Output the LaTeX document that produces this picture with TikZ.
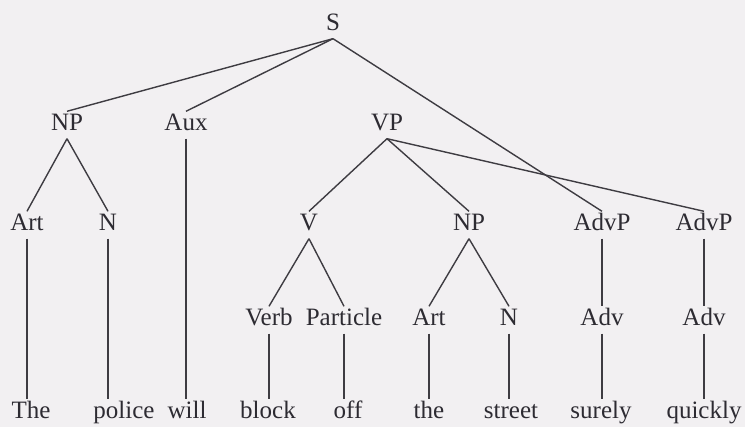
\documentclass[tikz,border=0pt]{standalone}
\usepackage{fontspec}
\setmainfont{Liberation Serif}
\definecolor{bg}{RGB}{242,240,242}
\definecolor{ink}{RGB}{45,43,50}
\definecolor{linec}{RGB}{62,60,66}
\begin{document}
\begin{tikzpicture}[x=1pt,y=-1pt,
  lab/.style={font=\fontsize{25}{28}\selectfont, text=ink, inner sep=2pt,
              text height=17pt, text depth=6pt},
  edge/.style={draw=linec, line width=1.4pt}]
\fill[bg] (0,0) rectangle (745,427);
\useasboundingbox (0,0) rectangle (745,427);
% nodes
\node[lab] (S) at (333,25) {S};
\node[lab] (NP1) at (67,125) {NP};
\node[lab] (Aux) at (186,125) {Aux};
\node[lab] (VP) at (387,125) {VP};
\node[lab] (Art1) at (27,225) {Art};
\node[lab] (N1) at (108,225) {N};
\node[lab] (V) at (309,225) {V};
\node[lab] (NP2) at (469,225) {NP};
\node[lab] (AdvP1) at (602,225) {AdvP};
\node[lab] (AdvP2) at (704,225) {AdvP};
\node[lab] (Verb) at (269,320) {Verb};
\node[lab] (Part) at (344,320) {Particle};
\node[lab] (Art2) at (429,320) {Art};
\node[lab] (N2) at (509,320) {N};
\node[lab] (Adv1) at (602,320) {Adv};
\node[lab] (Adv2) at (704,320) {Adv};
\node[lab] (w1) at (31,413) {The};
\node[lab] (w2) at (124,413) {police};
\node[lab] (w3) at (187,413) {will};
\node[lab] (w4) at (268,413) {block};
\node[lab] (w5) at (348,413) {off};
\node[lab] (w6) at (429,413) {the};
\node[lab] (w7) at (511,413) {street};
\node[lab] (w8) at (601,413) {surely};
\node[lab] (w9) at (704,413) {quickly};
% edges
\draw[edge] (S.south) -- (NP1.north);
\draw[edge] (S.south) -- (Aux.north);
\draw[edge] (S.south) -- (AdvP1.north);
\draw[edge] (NP1.south) -- (Art1.north);
\draw[edge] (NP1.south) -- (N1.north);
\draw[edge] (Aux.south) -- (Aux.south |- w3.north);
\draw[edge] (VP.south) -- (V.north);
\draw[edge] (VP.south) -- (NP2.north);
\draw[edge] (VP.south) -- (AdvP2.north);
\draw[edge] (Art1.south) -- (Art1.south |- w1.north);
\draw[edge] (N1.south) -- (N1.south |- w2.north);
\draw[edge] (V.south) -- (Verb.north);
\draw[edge] (V.south) -- (Part.north);
\draw[edge] (NP2.south) -- (Art2.north);
\draw[edge] (NP2.south) -- (N2.north);
\draw[edge] (AdvP1.south) -- (Adv1.north);
\draw[edge] (AdvP2.south) -- (Adv2.north);
\draw[edge] (Verb.south) -- (Verb.south |- w4.north);
\draw[edge] (Part.south) -- (Part.south |- w5.north);
\draw[edge] (Art2.south) -- (Art2.south |- w6.north);
\draw[edge] (N2.south) -- (N2.south |- w7.north);
\draw[edge] (Adv1.south) -- (Adv1.south |- w8.north);
\draw[edge] (Adv2.south) -- (Adv2.south |- w9.north);
\end{tikzpicture}
\end{document}
